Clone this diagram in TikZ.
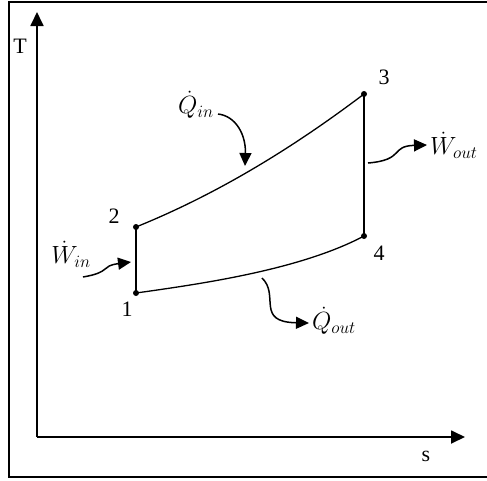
\documentclass[tikz,border=0pt]{standalone}
\usepackage{fontspec}
\setmainfont{Liberation Serif}
\usetikzlibrary{arrows.meta}
\begin{document}
\begin{tikzpicture}[x=1pt,y=-1pt,
  axis/.style={line width=1.8pt,-{Triangle[length=14pt,width=13pt]}},
  cycle/.style={line width=1.3pt},
  flow/.style={line width=1.5pt,-{Triangle[length=13pt,width=12pt]}},
  pt/.style={circle,fill=black,inner sep=0pt,minimum size=6pt},
  lab/.style={font=\fontsize{22}{22}\selectfont,inner sep=0pt},
  mlab/.style={font=\fontsize{25}{25}\selectfont,inner sep=0pt}]
\useasboundingbox (0,0) rectangle (487,480);
\draw[line width=1.4pt] (9,2) rectangle (495,477);
% axes
\coordinate (O) at (37,437);
\coordinate (Ty) at (37,12);
\coordinate (Sx) at (465,437);
\draw[axis] (O) -- (Ty);
\draw[axis] (O) -- (Sx);
\node[lab] (T) at (20,46) {T};
\node[lab] (s) at (426,456) {s};
% states
\node[pt] (p1) at (136,293) {};
\node[pt] (p2) at (136,227) {};
\node[pt] (p3) at (364,94) {};
\node[pt] (p4) at (364,236) {};
\node[lab] (l1) at (127,309) {1};
\node[lab] (l2) at (114,216) {2};
\node[lab] (l3) at (384,77) {3};
\node[lab] (l4) at (379,253) {4};
\draw[cycle] (p1.center) -- (p2.center);
\draw[cycle] (p2.center) .. controls (215,195) and (290,150) .. (p3.center);
\draw[cycle] (p3.center) -- (p4.center);
\draw[cycle] (p1.center) .. controls (200,284) and (300,270) .. (p4.center);
% flows
\coordinate (qa) at (218,114);
\coordinate (qb) at (245,166);
\draw[flow] (qa) .. controls (236,116) and (246,135) .. (qb);
\node[mlab] (Qin) at (196,105) {$\dot{Q}_{in}$};
\coordinate (wa) at (83,277);
\coordinate (wb) at (131,262);
\draw[flow] (wa) .. controls (112,272) and (100,266) .. (wb);
\node[mlab] (Win) at (71,254) {$\dot{W}_{in}$};
\coordinate (oa) at (368,163);
\coordinate (ob) at (427,145);
\draw[flow] (oa) .. controls (405,160) and (390,146) .. (ob);
\node[mlab,anchor=west] (Wout) at (430,145) {$\dot{W}_{out}$};
\coordinate (xa) at (262,278);
\coordinate (xb) at (309,323);
\draw[flow] (xa) .. controls (280,295) and (255,322) .. (xb);
\node[mlab,anchor=west] (Qout) at (312,321) {$\dot{Q}_{out}$};
\end{tikzpicture}
\end{document}
